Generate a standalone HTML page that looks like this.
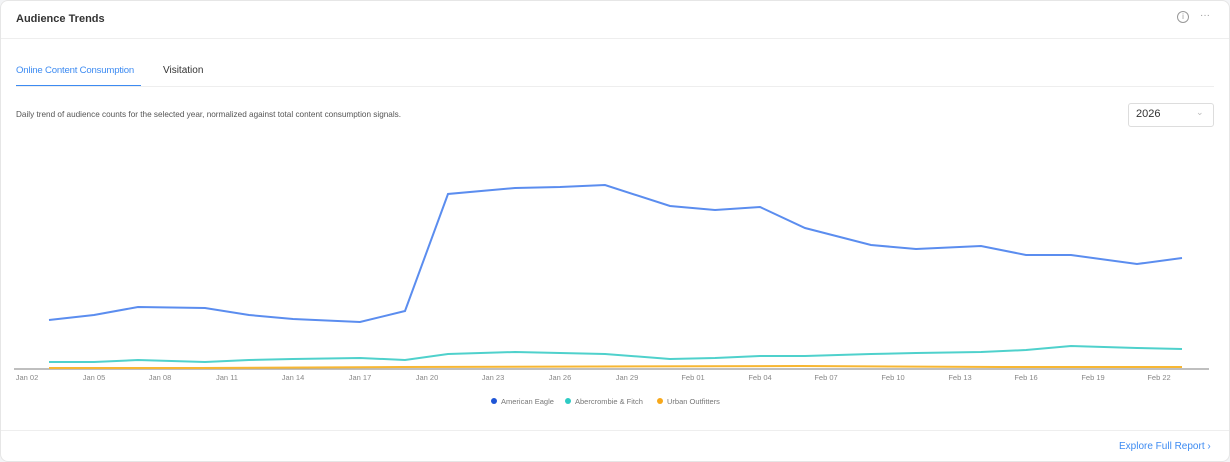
<!DOCTYPE html>
<html><head><style>
body{margin:0;background:#f3f4f6;font-family:"Liberation Sans",sans-serif;}
.card{position:absolute;left:0;top:0;width:1228px;height:460px;background:#fff;border:1px solid #e6e6e6;border-radius:8px;overflow:hidden}
.t{position:absolute;white-space:nowrap}
</style></head><body>
<div class="card">
<div class="t" style="left:15px;top:12px;font-size:11px;font-weight:bold;color:#333">Audience Trends</div>
<div style="position:absolute;left:0;right:0;top:37px;border-top:1px solid #eee"></div>
<div class="t" style="left:1176px;top:10px;width:10px;height:10px;border:1px solid #999;border-radius:50%;font-size:8px;color:#999;text-align:center;line-height:10px">i</div>
<div class="t" style="left:1199px;top:9px;font-size:10px;color:#999">···</div>
<div class="t" style="left:15px;top:64px;font-size:9.6px;color:#3d8bf2;letter-spacing:-0.2px">Online Content Consumption</div>
<div class="t" style="left:162px;top:64px;font-size:10px;color:#333">Visitation</div>
<div style="position:absolute;left:15px;width:125px;top:84px;border-top:1.5px solid #3d8bf2"></div>
<div style="position:absolute;left:15px;right:15px;top:85px;border-top:1px solid #eee"></div>
<div class="t" style="left:15px;top:109px;font-size:8.2px;color:#555">Daily trend of audience counts for the selected year, normalized against total content consumption signals.</div>
<div style="position:absolute;left:1127px;top:102px;width:84px;height:22px;border:1px solid #ddd;border-radius:3px"></div>
<div class="t" style="left:1135px;top:107px;font-size:11px;color:#333">2026</div>
<div class="t" style="left:1195px;top:106px;font-size:9px;color:#bbb">⌄</div>
<svg style="position:absolute;left:0;top:-1px" width="1230" height="462">
<line x1="13" y1="369" x2="1208" y2="369" stroke="#aaa" stroke-width="1.5"/>
<polyline fill="none" stroke="#5b8def" stroke-width="2" points="48,320 93,315 137,307 204,308 248,315 292,319 359,322 404,311 447,194 514,188 559,187 604,185 669,206 714,210 759,207 804,228 870,245 915,249 980,246 1025,255 1070,255 1136,264 1181,258"/>
<polyline fill="none" stroke="#4fd1cc" stroke-width="2" points="48,362 93,362 137,360 204,362 248,360 292,359 359,358 404,360 447,354 514,352 559,353 604,354 669,359 714,358 759,356 804,356 870,354 915,353 980,352 1025,350 1070,346 1136,348 1181,349"/>
<polyline fill="none" stroke="#f7b733" stroke-width="2" points="48,368 200,368 400,367 800,366 1000,367 1181,367"/>
<g font-size="7.5" fill="#888" text-anchor="middle" font-family="Liberation Sans">
<text x="26" y="380">Jan 02</text><text x="93" y="380">Jan 05</text><text x="159" y="380">Jan 08</text><text x="226" y="380">Jan 11</text><text x="292" y="380">Jan 14</text><text x="359" y="380">Jan 17</text><text x="426" y="380">Jan 20</text><text x="492" y="380">Jan 23</text><text x="559" y="380">Jan 26</text><text x="626" y="380">Jan 29</text><text x="692" y="380">Feb 01</text><text x="759" y="380">Feb 04</text><text x="825" y="380">Feb 07</text><text x="892" y="380">Feb 10</text><text x="959" y="380">Feb 13</text><text x="1025" y="380">Feb 16</text><text x="1092" y="380">Feb 19</text><text x="1158" y="380">Feb 22</text>
</g>
<g font-size="7.5" fill="#777" font-family="Liberation Sans">
<circle cx="493" cy="401" r="3" fill="#1f55d6"/><text x="500" y="404">American Eagle</text>
<circle cx="567" cy="401" r="3" fill="#2ecbc4"/><text x="574" y="404">Abercrombie &amp; Fitch</text>
<circle cx="659" cy="401" r="3" fill="#f7a81b"/><text x="666" y="404">Urban Outfitters</text>
</g>
</svg>
<div style="position:absolute;left:0;right:0;top:429px;border-top:1px solid #eee"></div>
<div class="t" style="left:1118px;top:440px;font-size:10px;color:#3d8bf2">Explore Full Report ›</div>
</div>
</body></html>
